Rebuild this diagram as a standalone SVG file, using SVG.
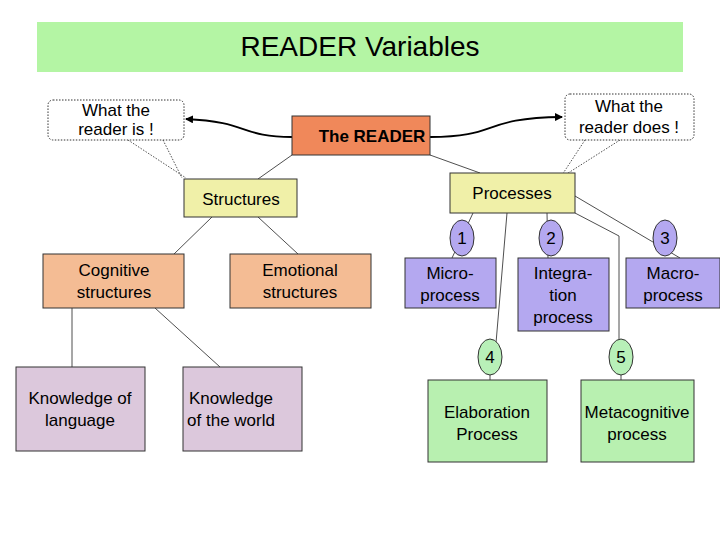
<svg xmlns="http://www.w3.org/2000/svg" width="720" height="540" viewBox="0 0 720 540">
<style>
text{font-family:"Liberation Sans",Arial,sans-serif;font-size:17px;text-anchor:middle;fill:#000}
.b{stroke:#333;stroke-width:1}
.c{fill:#fff;stroke:#333;stroke-width:1;stroke-dasharray:1.5 1.5}
.l{stroke:#222;stroke-width:0.8;fill:none}
.d{stroke:#222;stroke-width:0.8;fill:none;stroke-dasharray:1.5 1.5}
</style>
<defs><marker id="a" markerWidth="8" markerHeight="8" refX="7" refY="4" orient="auto" markerUnits="userSpaceOnUse"><path d="M0,0 L8,4 L0,8z" fill="#000"/></marker></defs>
<rect width="720" height="540" fill="#fff"/>
<g id="title"><rect x="37" y="22" width="646" height="50" fill="#b4f5a4"/><text x="360" y="56" style="font-size:28px">READER Variables</text></g>
<g id="connectors">
<path class="l" d="M292,155 L258,179 M430,155 L480,173 M212,217 L174,254 M258,217 L298,254 M72,308 L72,367 M155,308 L220,367 M473,213 L452,258 M547,213 L548,258 M575,196 L680,258 M507,213 L496,343 M575,213 L619,236 L619,343 M490,375 L490,380 M621,375 L621,380"/>
<path class="d" d="M128,140 L186,178 M163,140 L182,178 M585,140 L562,175 M620,140 L565,175"/>
<path d="M292,137 C240,137 250,122 186,119" fill="none" stroke="#000" stroke-width="1.8" marker-end="url(#a)"/>
<path d="M430,137 C500,137 480,118 562,117" fill="none" stroke="#000" stroke-width="1.8" marker-end="url(#a)"/>
</g>
<g id="is"><rect class="c" x="48" y="100" width="136" height="40" rx="5"/><text x="116" y="116">What the</text><text x="116" y="135">reader is !</text></g>
<g id="does"><rect class="c" x="565" y="94" width="129" height="46" rx="5"/><text x="629" y="112">What the</text><text x="629" y="133">reader does !</text></g>
<g id="reader"><rect class="b" x="292" y="116" width="138" height="39" fill="#f0885a"/><text x="372" y="142" style="font-weight:bold">The READER</text></g>
<g id="structures"><rect class="b" x="184" y="179" width="113" height="38" fill="#f0f0a8"/><text x="241" y="205">Structures</text></g>
<g id="processes"><rect class="b" x="450" y="173" width="125" height="40" fill="#f0f0a8"/><text x="512" y="199">Processes</text></g>
<g id="cognitive"><rect class="b" x="43" y="254" width="141" height="54" fill="#f4bc94"/><text x="114" y="276">Cognitive</text><text x="114" y="298">structures</text></g>
<g id="emotional"><rect class="b" x="230" y="254" width="141" height="54" fill="#f4bc94"/><text x="300" y="276">Emotional</text><text x="300" y="298">structures</text></g>
<g id="micro"><rect class="b" x="405" y="258" width="91" height="50" fill="#b4a8f0"/><text x="450" y="279">Micro-</text><text x="450" y="301">process</text></g>
<g id="integration"><rect class="b" x="518" y="258" width="91" height="73" fill="#b4a8f0"/><text x="563" y="279">Integra-</text><text x="563" y="301">tion</text><text x="563" y="323">process</text></g>
<g id="macro"><rect class="b" x="626" y="258" width="94" height="50" fill="#b4a8f0"/><text x="673" y="279">Macro-</text><text x="673" y="301">process</text></g>
<g id="n1"><ellipse class="b" cx="462" cy="238" rx="12" ry="18" fill="#b4a8f0"/><text x="462" y="244">1</text></g>
<g id="n2"><ellipse class="b" cx="551" cy="238" rx="12" ry="18" fill="#b4a8f0"/><text x="551" y="244">2</text></g>
<g id="n3"><ellipse class="b" cx="665" cy="238" rx="12" ry="18" fill="#b4a8f0"/><text x="665" y="244">3</text></g>
<g id="n4"><ellipse class="b" cx="490" cy="357" rx="12" ry="18" fill="#b8f0b8"/><text x="490" y="363">4</text></g>
<g id="n5"><ellipse class="b" cx="621" cy="357" rx="12" ry="18" fill="#b8f0b8"/><text x="621" y="363">5</text></g>
<g id="language"><rect class="b" x="16" y="367" width="129" height="84" fill="#dcc8dc"/><text x="80" y="404">Knowledge of</text><text x="80" y="426">language</text></g>
<g id="world"><rect class="b" x="183" y="367" width="119" height="84" fill="#dcc8dc"/><text x="231" y="404">Knowledge</text><text x="231" y="426">of the world</text></g>
<g id="elaboration"><rect class="b" x="428" y="380" width="119" height="82" fill="#b8f0b0"/><text x="487" y="418">Elaboration</text><text x="487" y="440">Process</text></g>
<g id="meta"><rect class="b" x="581" y="380" width="113" height="82" fill="#b8f0b0"/><text x="637" y="418">Metacognitive</text><text x="637" y="440">process</text></g>
</svg>
